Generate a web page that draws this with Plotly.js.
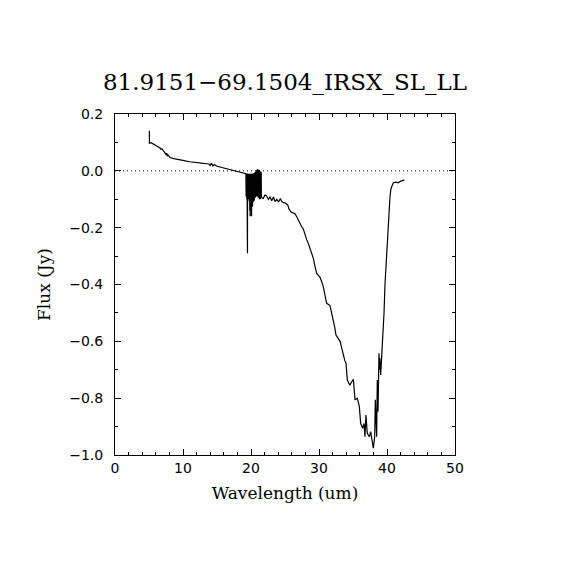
<!DOCTYPE html>
<html>
<head>
<meta charset="utf-8">
<script src="https://cdn.plot.ly/plotly-3.0.1.min.js"></script>
<style>
html,body{margin:0;padding:0;background:#fff;}
#chart{width:570px;height:570px;}
</style>
</head>
<body>
<div id="chart"></div>
<script>
// Wavelength (um) and flux (Jy)
const waveSL = [5.05, 5.06, 5.3, 5.6, 6.0, 6.3, 6.6, 6.75, 6.9, 7.1, 7.2, 7.35, 7.5, 7.6, 7.7, 7.8, 8.1, 8.5, 9.0, 9.5, 10.0, 10.5, 11.0, 11.5, 12.0, 12.5, 13.0, 13.5, 13.8, 14.0, 14.2, 14.4, 14.6, 15.0, 15.5, 16.0, 16.5, 17.0, 17.5, 18.0, 18.5, 19.0, 19.2];
const fluxSL = [0.141, 0.097, 0.099, 0.094, 0.090, 0.085, 0.081, 0.076, 0.078, 0.072, 0.068, 0.066, 0.058, 0.062, 0.052, 0.055, 0.047, 0.044, 0.041, 0.038, 0.036, 0.034, 0.032, 0.030, 0.029, 0.028, 0.026, 0.025, 0.024, 0.019, 0.027, 0.017, 0.022, 0.016, 0.013, 0.010, 0.007, 0.004, 0.002, -0.002, -0.004, -0.007, -0.010];

const waveNoisy = [19.25, 19.28, 19.3, 19.33, 19.35, 19.38, 19.4, 19.43, 19.45, 19.48, 19.5, 19.53, 19.55, 19.58, 19.6, 19.63, 19.65, 19.68, 19.7, 19.73, 19.75, 19.78, 19.8, 19.83, 19.85, 19.88, 19.9, 19.93, 19.95, 19.98, 20.0, 20.03, 20.05, 20.08, 20.1, 20.13, 20.15, 20.18, 20.2, 20.23, 20.25, 20.28, 20.3, 20.33, 20.35, 20.38, 20.4, 20.43, 20.45, 20.48, 20.5, 20.53, 20.55, 20.58, 20.6, 20.63, 20.65, 20.68, 20.7, 20.73, 20.75, 20.78, 20.8, 20.83, 20.85, 20.88, 20.9, 20.93, 20.95, 20.98, 21.0, 21.03, 21.05, 21.08, 21.1, 21.13, 21.15, 21.18, 21.2, 21.23, 21.25, 21.28, 21.3, 21.33, 21.35, 21.38, 21.4, 21.43, 21.45, 21.48, 21.5, 21.53, 21.55];
const fluxNoisy = [-0.010, -0.090, -0.012, -0.095, -0.010, -0.100, -0.012, -0.098, -0.015, -0.290, -0.010, -0.100, -0.012, -0.085, -0.010, -0.100, -0.012, -0.095, -0.010, -0.105, -0.010, -0.110, -0.012, -0.140, -0.015, -0.160, -0.012, -0.120, -0.010, -0.150, -0.012, -0.130, -0.010, -0.160, -0.015, -0.115, -0.012, -0.110, -0.012, -0.126, -0.010, -0.115, -0.012, -0.110, -0.010, -0.105, -0.012, -0.100, -0.008, -0.105, -0.005, -0.100, -0.005, -0.105, -0.004, -0.095, -0.002, -0.090, 0.000, -0.095, 0.002, -0.085, 0.003, -0.090, 0.002, -0.080, 0.003, -0.090, 0.004, -0.070, 0.002, -0.085, 0.003, -0.095, 0.002, -0.090, 0.000, -0.075, 0.001, -0.100, -0.002, -0.085, -0.002, -0.095, -0.003, -0.100, -0.005, -0.090, -0.004, -0.095, -0.005, -0.090, -0.095];

const waveLL = [21.6, 21.8, 22.05, 22.3, 22.55, 22.8, 23.05, 23.3, 23.55, 23.8, 24.05, 24.3, 24.55, 24.8, 25.1, 25.4, 25.6, 25.85, 26.2, 26.5, 26.8, 27.0, 27.2, 27.45, 27.7, 27.95, 28.2, 28.45, 28.6, 28.75, 28.9, 29.17, 29.4, 29.66, 29.9, 30.15, 30.4, 30.63, 30.9, 31.13, 31.4, 31.62, 31.9, 32.1, 32.3, 32.5, 32.8, 33.1, 33.35, 33.58, 33.8, 33.97, 34.17, 34.4, 34.56, 34.8, 35.05, 35.3, 35.64, 35.93, 36.13, 36.42, 36.62, 36.76, 36.9, 37.1, 37.4, 37.6, 37.84, 37.99, 38.19, 38.28, 38.48, 38.57, 38.68, 38.82, 38.9, 38.95, 39.07, 39.22, 39.36, 39.56, 39.7, 39.95, 40.2, 40.44, 40.59, 40.93, 41.3, 41.67, 41.9, 42.2, 42.55];
const fluxLL = [-0.095, -0.097, -0.085, -0.088, -0.100, -0.092, -0.105, -0.092, -0.108, -0.100, -0.110, -0.098, -0.108, -0.112, -0.114, -0.120, -0.135, -0.144, -0.148, -0.152, -0.165, -0.175, -0.190, -0.197, -0.205, -0.226, -0.243, -0.257, -0.268, -0.272, -0.285, -0.308, -0.335, -0.361, -0.368, -0.375, -0.390, -0.408, -0.440, -0.466, -0.470, -0.475, -0.505, -0.525, -0.550, -0.578, -0.590, -0.600, -0.625, -0.654, -0.668, -0.677, -0.736, -0.748, -0.754, -0.742, -0.734, -0.806, -0.800, -0.830, -0.889, -0.906, -0.889, -0.936, -0.859, -0.924, -0.936, -0.918, -0.953, -0.976, -0.936, -0.806, -0.936, -0.736, -0.847, -0.642, -0.700, -0.660, -0.718, -0.660, -0.584, -0.501, -0.402, -0.290, -0.185, -0.091, -0.062, -0.042, -0.040, -0.042, -0.038, -0.036, -0.032];

const titleText = "81.9151\u221269.1504_IRSX_SL_LL";
const xTitle = "Wavelength (um)";
const yTitle = "Flux (Jy)";

const wave = waveSL.concat(waveNoisy, waveLL);
const flux = fluxSL.concat(fluxNoisy, fluxLL);

const trace = {
  x: wave, y: flux, type: 'scatter', mode: 'lines',
  line: {color: '#000', width: 1.2}, hoverinfo: 'none', showlegend: false
};

const axisCommon = {
  showgrid: false, zeroline: false, showline: true, linecolor: '#000', linewidth: 1,
  mirror: 'allticks', ticks: 'inside', ticklen: 6, tickwidth: 1, tickcolor: '#000',
  tickfont: {family: 'DejaVu Sans', size: 14, color: '#000'}
};

const layout = {
  width: 570, height: 570,
  margin: {l: 115, r: 115, t: 114, b: 115},
  paper_bgcolor: '#fff', plot_bgcolor: '#fff',
  title: {text: titleText, font: {family: 'DejaVu Serif', size: 23, color: '#000'},
          x: 0.5, xanchor: 'center', xref: 'paper', y: 1 - 81.5/570, yref: 'container', yanchor: 'middle'},
  xaxis: Object.assign({}, axisCommon, {
    range: [0, 50], dtick: 10, tick0: 0,
    minor: {dtick: 2, ticks: 'inside', ticklen: 3, tickcolor: '#000', tickwidth: 1, showgrid: false},
    title: {text: xTitle, font: {family: 'DejaVu Serif', size: 17, color: '#000'}, standoff: 12}
  }),
  yaxis: Object.assign({}, axisCommon, {
    range: [-1.0, 0.2], dtick: 0.2, tick0: 0, tickformat: '.1f', ticklabelstandoff: 8,
    minor: {dtick: 0.1, ticks: 'inside', ticklen: 3, tickcolor: '#000', tickwidth: 1, showgrid: false},
    title: {text: yTitle, font: {family: 'DejaVu Serif', size: 17, color: '#000'}, standoff: 14}
  }),
  shapes: [{type: 'line', xref: 'paper', x0: 0, x1: 1, yref: 'y', y0: 0, y1: 0,
            line: {color: '#000', width: 1, dash: '1px,3px'}}]
};

Plotly.newPlot('chart', [trace], layout, {displayModeBar: false, staticPlot: true});
</script>
</body>
</html>
